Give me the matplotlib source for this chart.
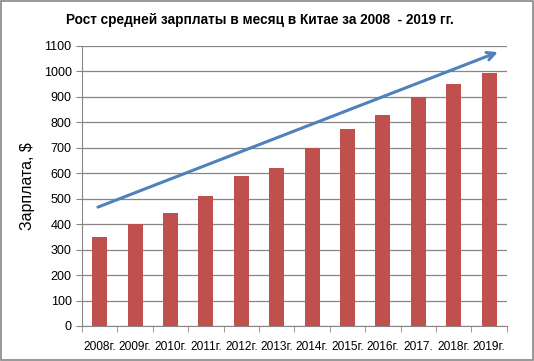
import numpy as np
import matplotlib.pyplot as plt

# dati
anni = ['2008г.', '2009г.', '2010г.', '2011г.', '2012г.', '2013г.', '2014г.',
        '2015г.', '2016г.', '2017.', '2018г.', '2019г.']
zarplata = [350, 400, 445, 510, 590, 620, 700, 775, 830, 900, 950, 995]
# freccia di tendenza (inizio e fine in coordinate dati)
trend_x = [-0.05, 11.25]
trend_y = [467, 1076]

plt.rcParams['font.family'] = ['Liberation Sans', 'DejaVu Sans']

fig = plt.figure(figsize=(5.34, 3.61), dpi=100, facecolor='white')
ax = fig.add_axes([0.1536, 0.097, 0.7954, 0.7756])

x = np.arange(len(anni))
ax.bar(x, zarplata, width=0.42, color='#C0504D', zorder=2)

ax.annotate('', xy=(trend_x[1], trend_y[1]), xytext=(trend_x[0], trend_y[0]),
            arrowprops=dict(arrowstyle='->', color='#4F81BD', lw=2.2,
                            mutation_scale=14, shrinkA=0, shrinkB=0),
            zorder=3)

ax.set_xlim(-0.5, len(anni) - 0.5)
ax.set_ylim(0, 1100)
ax.set_yticks(np.arange(0, 1101, 100))
ax.set_xticks(x)
ax.set_xticklabels(anni, fontsize=8.6)
ax.set_xticks(np.arange(-0.5, len(anni)), minor=True)
ax.tick_params(axis='x', which='major', length=0, pad=11)
ax.tick_params(axis='x', which='minor', length=4, color='#868686')
ax.tick_params(axis='y', length=4, color='#868686', labelsize=9)
ax.yaxis.grid(True, color='#868686', lw=0.9, zorder=0)
ax.set_axisbelow(True)
for s in ['top', 'right']:
    ax.spines[s].set_visible(False)
ax.spines['left'].set_color('#868686')
ax.spines['bottom'].set_color('#868686')

ax.set_ylabel('Зарплата, $', fontsize=11.5, labelpad=6)
fig.text(0.487, 0.945, 'Рост средней зарплаты в месяц в Китае за 2008  - 2019 гг.',
         ha='center', va='center', fontsize=9.8, fontweight='bold')

# cornice esterna
fig.patches.append(plt.Rectangle((0.002, 0.003), 0.996, 0.994, transform=fig.transFigure,
                                 fill=False, edgecolor='#868686', lw=1.2))

fig.savefig('out.png', dpi=100)
